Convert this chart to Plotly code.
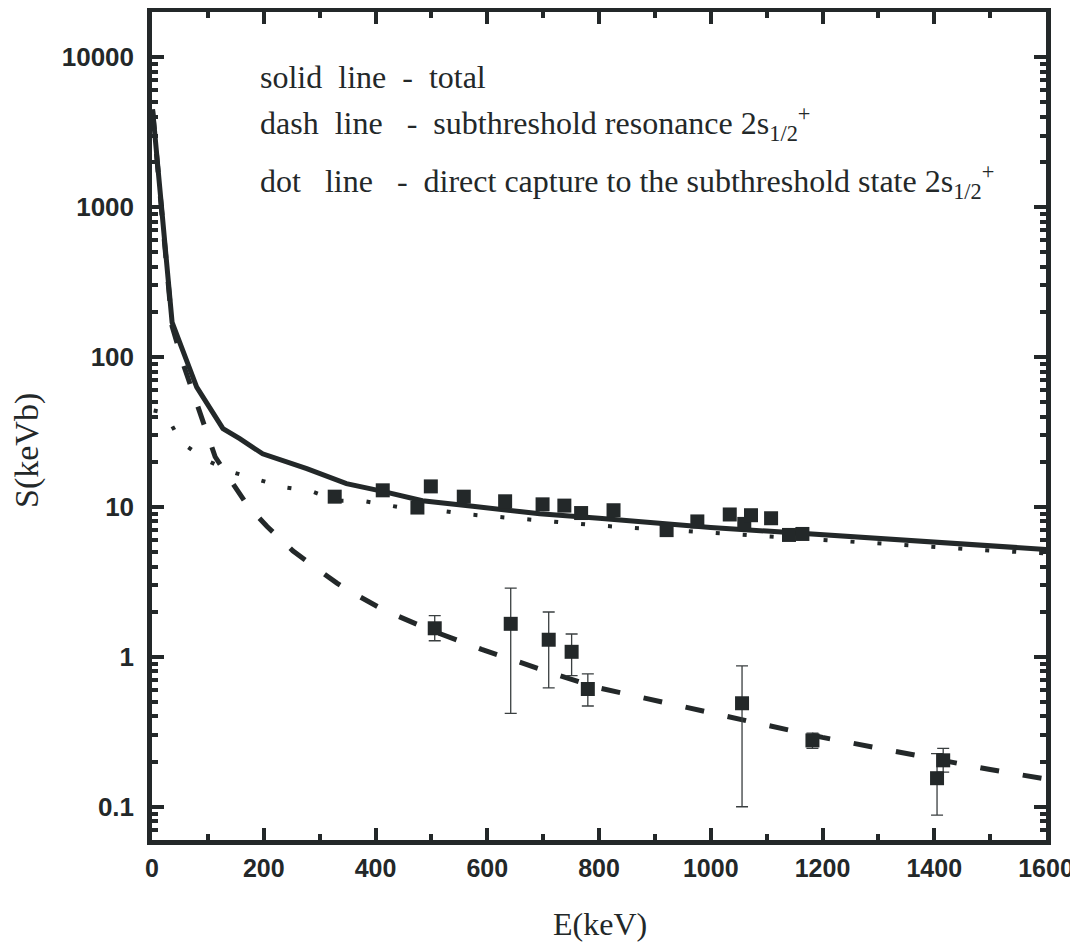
import plotly.graph_objects as go
import numpy as np

# ---------------- data ----------------
total_E = [1, 36, 80, 127, 157, 198, 277, 348, 413, 484, 574, 694, 800, 900, 1000, 1100, 1200, 1400, 1600]
total_S = [4500, 170, 63, 33.3, 28.5, 22.6, 18.0, 14.3, 12.7, 11.0, 10.1, 9.0, 8.4, 7.8, 7.3, 6.9, 6.5, 5.8, 5.2]

dash_E = [1, 36, 58, 80, 113, 136, 172, 206, 252, 286, 331, 360, 408, 440, 500, 590, 650, 720,
          800, 900, 1000, 1100, 1200, 1300, 1400, 1500, 1600]
dash_S = [4400, 160, 85, 50, 21.6, 16, 10.1, 7.4, 5.1, 4.1, 3.1, 2.66, 2.12, 1.87, 1.5, 1.12, 0.94, 0.77,
          0.62, 0.51, 0.42, 0.35, 0.29, 0.245, 0.208, 0.177, 0.153]

dot_E = [3, 23, 52, 98, 145, 190, 238, 286, 331, 381, 429, 474, 520, 568, 616, 661, 708, 756, 804,
         849, 900, 944, 990, 1038, 1083, 1226, 1319, 1414, 1507, 1553, 1600]
dot_S = [44, 42.5, 27, 20.4, 17.0, 15.1, 13.5, 12.7, 11.0, 10.9, 10.2, 9.5, 9.4, 8.9, 8.6, 8.3, 8.0, 7.8, 7.5,
         7.3, 7.1, 6.9, 6.7, 6.5, 6.4, 5.9, 5.6, 5.3, 5.1, 5.0, 4.9]

upper_E = [327, 413, 475, 499, 558, 632, 699, 738, 768, 826, 921, 976, 1034, 1060, 1072, 1108, 1140, 1164]
upper_S = [11.7, 12.9, 9.9, 13.7, 11.7, 10.9, 10.4, 10.2, 9.1, 9.5, 7.0, 8.0, 8.9, 7.7, 8.8, 8.4, 6.5, 6.6]

lower_E = [506, 642, 710, 751, 780, 1056, 1182, 1405, 1416]
lower_S = [1.55, 1.66, 1.30, 1.08, 0.61, 0.49, 0.277, 0.155, 0.204]
lower_hi = [1.88, 2.87, 1.99, 1.42, 0.77, 0.87, 0.31, 0.226, 0.245]
lower_lo = [1.28, 0.42, 0.62, 0.75, 0.47, 0.10, 0.245, 0.088, 0.17]

x_ticks = [0, 200, 400, 600, 800, 1000, 1200, 1400, 1600]
y_ticks = [0.1, 1, 10, 100, 1000, 10000]
y_ticktext = ["0.1", "1", "10", "100", "1000", "10000"]

legend_lines = [
    "solid  line  -  total",
    "dash  line   -  subthreshold resonance 2s<sub>1/2</sub><sup>+</sup>",
    "dot   line   -  direct capture to the subthreshold state 2s<sub>1/2</sub><sup>+</sup>",
]

# ---------------- figure ----------------
INK = "#232829"
fig = go.Figure()

fig.add_trace(go.Scatter(x=dot_E, y=dot_S, mode="lines",
                         line=dict(color=INK, width=4, dash="4px,23px"), showlegend=False))
fig.add_trace(go.Scatter(x=dash_E, y=dash_S, mode="lines",
                         line=dict(color=INK, width=5, dash="19px,24px"), showlegend=False))
fig.add_trace(go.Scatter(x=total_E, y=total_S, mode="lines",
                         line=dict(color=INK, width=5), showlegend=False))

fig.add_trace(go.Scatter(x=upper_E, y=upper_S, mode="markers",
                         marker=dict(symbol="square", size=14, color=INK), showlegend=False))

err_plus = [h - s for h, s in zip(lower_hi, lower_S)]
err_minus = [s - l for s, l in zip(lower_S, lower_lo)]
fig.add_trace(go.Scatter(x=lower_E, y=lower_S, mode="markers",
                         marker=dict(symbol="square", size=14, color=INK),
                         error_y=dict(type="data", symmetric=False, array=err_plus, arrayminus=err_minus,
                                      color="#3a3f40", thickness=1.3, width=6),
                         showlegend=False))

minor_y = [m * 10.0 ** k for k in range(-2, 5) for m in range(2, 10)]

axis_common = dict(showline=True, linewidth=4.5, linecolor=INK, mirror="ticks",
                   ticks="inside", ticklen=12, tickwidth=3.5, tickcolor=INK,
                   showgrid=False, zeroline=False, automargin=False)

fig.update_xaxes(range=[0, 1600], tickmode="array", tickvals=x_ticks, ticklabelstandoff=2,
                 tickfont=dict(family="Liberation Sans", size=25, color=INK, weight="bold"),
                 minor=dict(ticks="inside", ticklen=6, tickwidth=3.5, tickcolor=INK, dtick=100, showgrid=False),
                 **axis_common)
fig.update_yaxes(type="log", range=[np.log10(0.06), np.log10(20000)], tickmode="array",
                 tickvals=y_ticks, ticktext=y_ticktext, ticklabelstandoff=8,
                 tickfont=dict(family="Liberation Sans", size=26, color=INK, weight="bold"),
                 minor=dict(ticks="inside", ticklen=6, tickwidth=3.5, tickcolor=INK,
                            tickmode="array", tickvals=minor_y, showgrid=False),
                 **axis_common)

# page body adds an 8px offset; plot area targeted at window px 152..1047 x 12..840
W, H = 1070, 941
L, R, T, B = 144, 32, 4, 109
PX0, PX1, PY0, PY1 = 152, 1046, 12, 840

def px(x):
    return (x - PX0) / (PX1 - PX0)

def py(y):
    return (PY1 - y) / (PY1 - PY0)

ann = []
for i, (txt, yc) in enumerate(zip(legend_lines, [77, 123, 181])):
    ann.append(dict(text=txt, x=px(258), y=py(yc), xref="paper", yref="paper",
                    xanchor="left", yanchor="middle", showarrow=False,
                    font=dict(family="Liberation Serif", size=32, color=INK)))
ann.append(dict(text="E(keV)", x=px(600), y=py(924), xref="paper", yref="paper",
                xanchor="center", yanchor="middle", showarrow=False,
                font=dict(family="Liberation Serif", size=32, color=INK)))
ann.append(dict(text="S(keVb)", x=px(27), y=py(451), xref="paper", yref="paper",
                xanchor="center", yanchor="middle", showarrow=False, textangle=-90,
                font=dict(family="Liberation Serif", size=34, color=INK)))

fig.update_layout(width=W, height=H, margin=dict(l=L, r=R, t=T, b=B, pad=0, autoexpand=False),
                  plot_bgcolor="white", paper_bgcolor="white", annotations=ann,
                  showlegend=False)

fig.write_html("out.html")
